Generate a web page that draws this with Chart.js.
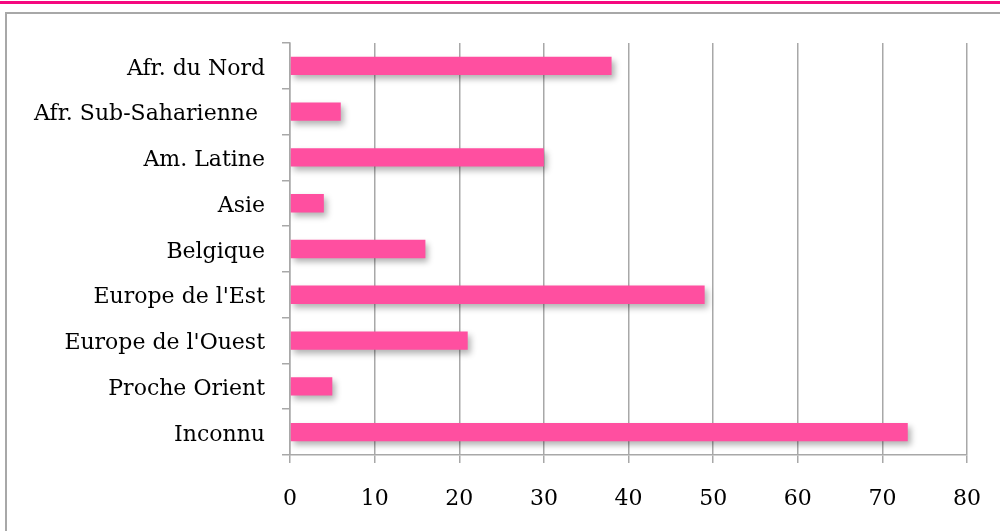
<!DOCTYPE html>
<html>
<head>
<meta charset="utf-8">
<title>Origine</title>
<script src="https://cdn.jsdelivr.net/npm/chart.js@4.4.0/dist/chart.umd.min.js"></script>
<style>
  html, body { margin: 0; padding: 0; background: #fff; }
  #wrap { position: relative; width: 1000px; height: 531px; overflow: hidden; }
  #topline { position: absolute; left: 0; top: 1px; width: 1000px; height: 3px; background: #f5087f; }
  #frame { position: absolute; left: 5px; top: 12px; width: 1100px; height: 600px; border: 2px solid #a8a8a8; }
  #box { position: absolute; left: 0; top: 0; width: 1000px; height: 531px; }
</style>
</head>
<body>
<div id="wrap">
  <div id="topline"></div>
  <div id="frame"></div>
  <div id="box"><canvas id="originChart" width="1000" height="531"></canvas></div>
</div>
<script>
// --- DATA ---
const regions = [
  'Afr. du Nord', 'Afr. Sub-Saharienne ', 'Am. Latine', 'Asie', 'Belgique',
  "Europe de l'Est", "Europe de l'Ouest", 'Proche Orient', 'Inconnu'
];
const counts = [38, 6, 30, 4, 16, 49, 21, 5, 73];
const xTicks = [0, 10, 20, 30, 40, 50, 60, 70, 80];

const gridGrey = '#a8a8a8';
const labelFont = { family: 'DejaVu Serif', size: 22 };

// soft drop shadow under the bars
const barShadow = {
  id: 'barShadow',
  beforeDatasetDraw(chart) {
    const c = chart.ctx;
    c.save();
    c.shadowColor = 'rgba(0, 0, 0, 0.3)';
    c.shadowBlur = 6;
    c.shadowOffsetX = 3;
    c.shadowOffsetY = 4;
  },
  afterDatasetDraw(chart) {
    chart.ctx.restore();
  }
};

const ctx = document.getElementById('originChart').getContext('2d');

new Chart(ctx, {
  type: 'bar',
  data: {
    labels: regions,
    datasets: [{
      data: counts,
      backgroundColor: '#ff4fa0',
      borderWidth: 0,
      categoryPercentage: 1,
      barPercentage: 0.4
    }]
  },
  plugins: [barShadow],
  options: {
    indexAxis: 'y',
    responsive: false,
    animation: false,
    devicePixelRatio: 1,
    layout: { padding: { top: 43, right: 33, left: 0, bottom: 0 } },
    plugins: {
      legend: { display: false },
      tooltip: { enabled: false }
    },
    scales: {
      x: {
        min: 0,
        max: 80,
        afterBuildTicks(scale) {
          scale.ticks = xTicks.map(v => ({ value: v }));
        },
        afterFit(scale) {
          scale.height = 76;
          scale.paddingLeft = 0;
          scale.paddingRight = 0;
        },
        grid: { color: gridGrey, lineWidth: 1.5, tickLength: 8 },
        border: { color: gridGrey, width: 1.5 },
        ticks: { color: '#000', font: labelFont, padding: 23, maxRotation: 0 }
      },
      y: {
        afterFit(scale) { scale.width = 290; },
        grid: { color: gridGrey, lineWidth: 1.5, tickLength: 8, drawOnChartArea: false },
        border: { color: gridGrey, width: 1.5 },
        ticks: { color: '#000', font: labelFont, padding: 17, labelOffset: 3, autoSkip: false }
      }
    }
  }
});
</script>
</body>
</html>
